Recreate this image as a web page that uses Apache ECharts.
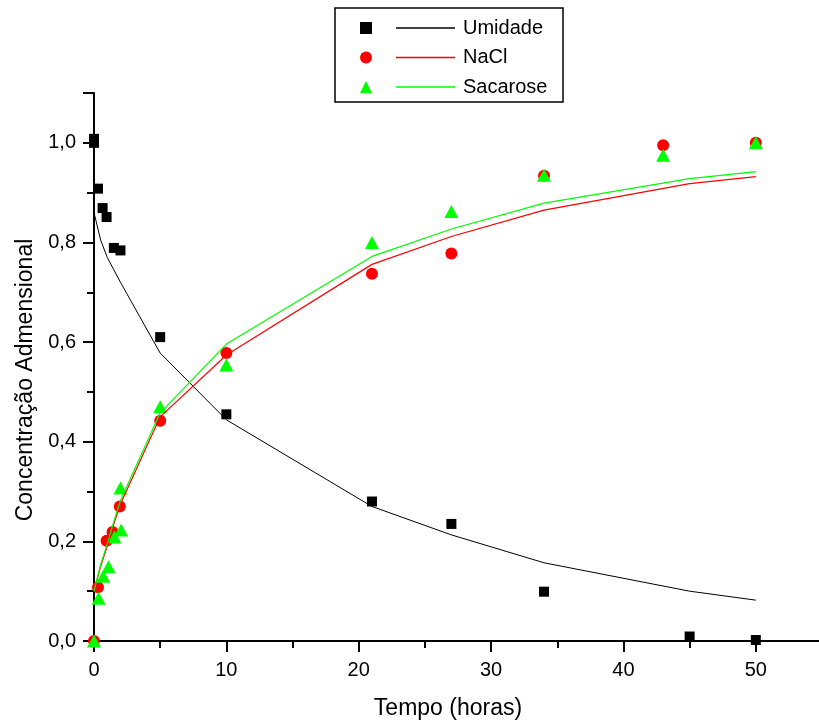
<!DOCTYPE html>
<html>
<head>
<meta charset="utf-8">
<script src="https://cdn.jsdelivr.net/npm/echarts@6/dist/echarts.min.js"></script>
<style>
  html, body { margin: 0; padding: 0; background: #fff; }
  #chart { width: 819px; height: 723px; }
</style>
</head>
<body>
<div id="chart"></div>
<script>
// pontos experimentais
var umidadeT = [0, 0, 0.3, 0.65, 0.95, 1.5, 2, 5, 10, 21, 27, 34, 45, 50];
var umidade = [1.0, 1.008, 0.908, 0.869, 0.851, 0.789, 0.784, 0.61, 0.455, 0.28, 0.235, 0.099, 0.009, 0.002];

var naclT = [0, 0.3, 0.95, 1.4, 1.95, 5, 10, 21, 27, 34, 43, 50];
var nacl = [0.0, 0.108, 0.201, 0.219, 0.27, 0.442, 0.578, 0.737, 0.778, 0.934, 0.995, 1.0];

var sacaroseT = [0, 0.35, 0.7, 1.1, 1.55, 2.05, 2.0, 5, 10, 21, 27, 34, 43, 50];
var sacarose = [0.0, 0.086, 0.13, 0.149, 0.209, 0.223, 0.307, 0.47, 0.554, 0.80, 0.862, 0.935, 0.975, 1.0];

// curvas ajustadas
var fitT = [0, 0.5, 1, 1.5, 2, 5, 10, 21, 27, 34, 45, 50];
var umidadeFit = [0.86, 0.805, 0.77, 0.745, 0.72, 0.578, 0.444, 0.27, 0.213, 0.157, 0.10, 0.082];
var naclFit = [0.10, 0.15, 0.19, 0.235, 0.275, 0.45, 0.574, 0.756, 0.812, 0.865, 0.918, 0.932];
var sacaroseFit = [0.10, 0.153, 0.195, 0.24, 0.282, 0.458, 0.596, 0.772, 0.827, 0.879, 0.928, 0.942];

var nomes = ['Umidade', 'NaCl', 'Sacarose'];
var cores = ['#000000', '#ff0000', '#00ff00'];

function pares(xs, ys) {
  return xs.map(function (x, i) { return [x, ys[i]]; });
}

var fonte = 'Liberation Sans, Arial, sans-serif';
var chart = echarts.init(document.getElementById('chart'));

chart.setOption({
  animation: false,
  backgroundColor: '#fff',
  grid: { left: 94, top: 93, width: 728, height: 548, outerBoundsMode: 'none' },
  graphic: [{
    type: 'rect',
    shape: { x: 335, y: 8, width: 228, height: 94 },
    style: { fill: 'none', stroke: '#000', lineWidth: 1.5 }
  }],
  legend: [{
    // so os simbolos
    data: ['Umidade ', 'NaCl ', 'Sacarose '],
    orient: 'vertical',
    left: 360, top: 22, padding: 0,
    itemWidth: 12, itemHeight: 12, itemGap: 17.5,
    formatter: function () { return ''; },
    selectedMode: false
  }, {
    data: nomes.map(function (n) { return { name: n, icon: 'rect' }; }),
    orient: 'vertical',
    left: 396, top: 18, padding: 0,
    itemWidth: 59, itemHeight: 1.5, itemGap: 9.5,
    textStyle: { fontFamily: fonte, fontSize: 20, lineHeight: 20, color: '#000', padding: [0, 0, 0, 3] },
    selectedMode: false
  }],
  xAxis: {
    type: 'value',
    min: 0, max: 55, interval: 10,
    name: 'Tempo (horas)',
    nameLocation: 'middle',
    nameGap: 56,
    nameTextStyle: { fontFamily: fonte, fontSize: 23, color: '#000', padding: [0, 20, 0, 0] },
    axisLine: { lineStyle: { color: '#000', width: 2 } },
    axisTick: { show: true, length: 11, lineStyle: { color: '#000', width: 2 } },
    minorTick: { show: true, splitNumber: 2, length: 7, lineStyle: { color: '#000', width: 2 } },
    axisLabel: { fontFamily: fonte, fontSize: 20, color: '#000', margin: 19, showMaxLabel: false },
    splitLine: { show: false }
  },
  yAxis: {
    type: 'value',
    min: 0, max: 1.1, interval: 0.2,
    name: 'Concentração Admensional',
    nameLocation: 'middle',
    nameGap: 51,
    nameTextStyle: { fontFamily: fonte, fontSize: 23, color: '#000', padding: [0, 26, 0, 0] },
    axisLine: { lineStyle: { color: '#000', width: 2 } },
    axisTick: { show: true, length: 11, lineStyle: { color: '#000', width: 2 } },
    minorTick: { show: true, splitNumber: 2, length: 7, lineStyle: { color: '#000', width: 2 } },
    axisLabel: {
      fontFamily: fonte, fontSize: 20, color: '#000', margin: 18, showMaxLabel: false,
      formatter: function (v) { return v.toFixed(1).replace('.', ','); }
    },
    splitLine: { show: false }
  },
  series: [
    { name: 'Umidade', type: 'line', data: pares(fitT, umidadeFit), symbol: 'none',
      lineStyle: { color: cores[0], width: 1 }, itemStyle: { color: cores[0] } },
    { name: 'NaCl', type: 'line', data: pares(fitT, naclFit), symbol: 'none',
      lineStyle: { color: cores[1], width: 1.2 }, itemStyle: { color: cores[1] } },
    { name: 'Sacarose', type: 'line', data: pares(fitT, sacaroseFit), symbol: 'none',
      lineStyle: { color: cores[2], width: 1.2 }, itemStyle: { color: cores[2] } },
    { name: 'Umidade ', type: 'scatter', data: pares(umidadeT, umidade), symbol: 'rect',
      symbolSize: 10, itemStyle: { color: cores[0], opacity: 1 } },
    { name: 'NaCl ', type: 'scatter', data: pares(naclT, nacl), symbol: 'circle',
      symbolSize: 12, itemStyle: { color: cores[1], opacity: 1 } },
    { name: 'Sacarose ', type: 'scatter', data: pares(sacaroseT, sacarose), symbol: 'triangle',
      symbolSize: [14, 13], itemStyle: { color: cores[2], opacity: 1 } }
  ]
});
</script>
</body>
</html>
